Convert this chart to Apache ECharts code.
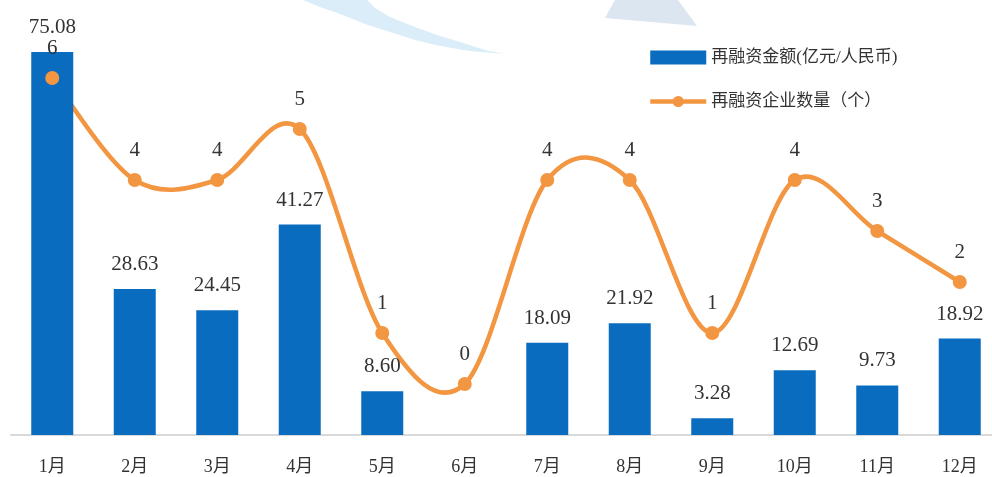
<!DOCTYPE html>
<html>
<head>
<meta charset="utf-8">
<script src="https://cdn.jsdelivr.net/npm/echarts@6/dist/echarts.min.js"></script>
<style>
  html, body { margin: 0; padding: 0; background: #fff; }
  #main { width: 992px; height: 477px; }
</style>
</head>
<body>
<div id="main"></div>
<script>
var months = ['1月', '2月', '3月', '4月', '5月', '6月', '7月', '8月', '9月', '10月', '11月', '12月'];
var amount = [75.08, 28.63, 24.45, 41.27, 8.60, null, 18.09, 21.92, 3.28, 12.69, 9.73, 18.92];
var companies = [6, 4, 4, 5, 1, 0, 4, 4, 1, 4, 3, 2];

var serif = '"Liberation Serif", "Noto Sans CJK SC", serif';
var orange = '#f39642';

var myChart = echarts.init(document.getElementById('main'));

// Excel 风格的平滑曲线（Catmull-Rom，张力 1/6），坐标由坐标轴换算
function renderCurve(params, api) {
    if (params.dataIndex !== 0) return null;
    var pts = companies.map(function (v, i) { return api.coord([i, v]); });
    var n = pts.length;
    var d = 'M' + pts[0][0] + ',' + pts[0][1];
    for (var i = 0; i < n - 1; i++) {
        var p0 = pts[Math.max(i - 1, 0)], p1 = pts[i], p2 = pts[i + 1], p3 = pts[Math.min(i + 2, n - 1)];
        var c1x = p1[0] + (p2[0] - p0[0]) / 6, c1y = p1[1] + (p2[1] - p0[1]) / 6;
        var c2x = p2[0] - (p3[0] - p1[0]) / 6, c2y = p2[1] - (p3[1] - p1[1]) / 6;
        d += ' C' + c1x + ',' + c1y + ' ' + c2x + ',' + c2y + ' ' + p2[0] + ',' + p2[1];
    }
    return {
        type: 'path',
        shape: { pathData: d },
        style: { fill: 'none', stroke: orange, lineWidth: 4.5 }
    };
}

var option = {
    backgroundColor: '#fff',
    animation: false,
    // 顶部装饰图形
    graphic: [{
        type: 'polygon',
        shape: {
            points: [[303, 0], [320, 7], [340, 14], [365, 24], [390, 32], [415, 40], [440, 46], [470, 51], [505, 54],
                     [485, 50], [457, 41], [440, 36], [415, 27], [390, 17], [375, 8], [367, 0]]
        },
        style: { fill: '#daedf8' },
        silent: true
    }, {
        type: 'polygon',
        shape: { points: [[615, 0], [678, 0], [697, 26], [605, 18]] },
        style: { fill: '#dbe6f0' },
        silent: true
    }],
    legend: {
        orient: 'vertical',
        left: 643,
        top: 44,
        itemGap: 27,
        itemWidth: 56,
        itemHeight: 14,
        textStyle: { fontFamily: serif, fontSize: 17, color: '#333' },
        data: [
            { name: '再融资金额(亿元/人民币)', icon: 'rect' },
            { name: '再融资企业数量（个）', lineStyle: { opacity: 1, width: 4.5, color: orange } }
        ]
    },
    grid: { left: 11, width: 990, top: 27, bottom: 42, outerBoundsMode: 'none', containLabel: false },
    xAxis: {
        type: 'category',
        data: months,
        axisLine: { lineStyle: { color: '#d9d9d9', width: 2 } },
        axisTick: { show: false },
        axisLabel: { fontFamily: serif, fontSize: 18, color: '#333', margin: 23 }
    },
    yAxis: [{
        type: 'value',
        min: 0,
        max: 80,
        show: false
    }, {
        type: 'value',
        min: -1,
        max: 7,
        show: false
    }],
    series: [{
        name: '再融资金额(亿元/人民币)',
        type: 'bar',
        data: amount,
        barWidth: 42,
        itemStyle: { color: '#0a6cbf' },
        label: {
            show: true,
            position: 'top',
            distance: 14,
            fontFamily: serif,
            fontSize: 21,
            color: '#333',
            formatter: function (p) { return p.value.toFixed(2); }
        }
    }, {
        type: 'custom',
        yAxisIndex: 1,
        data: companies.map(function (v, i) { return [i, v]; }),
        renderItem: renderCurve,
        silent: true,
        z: 2
    }, {
        name: '再融资企业数量（个）',
        type: 'line',
        yAxisIndex: 1,
        data: companies,
        symbol: 'circle',
        symbolSize: 14,
        lineStyle: { color: orange, width: 4.5, opacity: 0 },
        itemStyle: { color: orange },
        label: {
            show: true,
            position: 'top',
            distance: 12,
            fontFamily: serif,
            fontSize: 21,
            color: '#333'
        },
        z: 3
    }]
};

myChart.setOption(option, true);
</script>
</body>
</html>
